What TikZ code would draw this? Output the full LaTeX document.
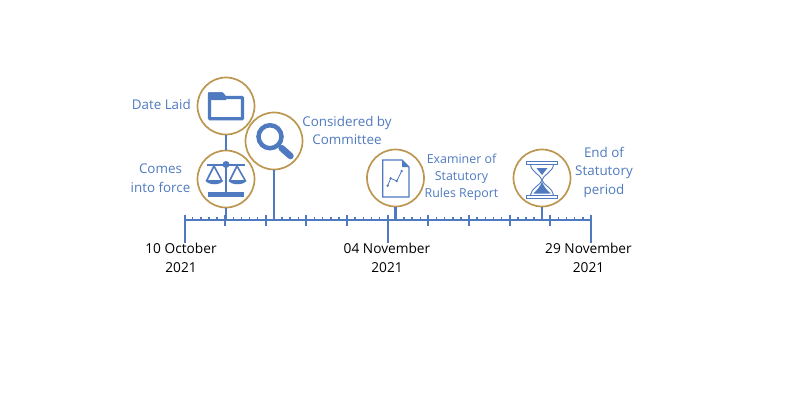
\documentclass[tikz,border=0pt]{standalone}
\usepackage{fontspec}
\usepackage{xcolor}
\setmainfont{Open Sans}
\definecolor{lineblue}{HTML}{4F7ABF}
\definecolor{ringgold}{HTML}{BD9650}

\tikzset{
	event/.style={circle, draw=ringgold, line width=1.7pt, fill=white, minimum size=57pt, inner sep=0pt},
	stem/.style={lineblue, line width=2.2pt},
	major/.style={lineblue, line width=2pt},
	minor/.style={lineblue, line width=1.5pt},
	bluelabel/.style={text=lineblue, align=center, inner sep=0pt, font=\fontsize{13.4}{18.5}\selectfont},
	smalllabel/.style={text=lineblue, align=center, inner sep=0pt, font=\fontsize{12.4}{17}\selectfont},
	datelabel/.style={text=black, align=center, inner sep=0pt, font=\fontsize{13.7}{18.3}\selectfont},
}

\begin{document}
\begin{tikzpicture}[x=1pt, y=-1pt]
	\useasboundingbox (0, 0) rectangle (790, 400);

	\coordinate (axisstart) at (184.5, 220);
	\coordinate (axisend) at (591, 220);

	% ticks
	\foreach \i in {0,...,50} {
		\draw[minor] ({184.5+8.13*\i}, 216.5) -- ++(0, 3.5);
	}
	\foreach \i in {0,...,10} {
		\draw[major] ({184.5+40.65*\i}, 215) -- ++(0, 11);
	}
	\draw[major] (axisstart) -- (axisend);  % time line

	\coordinate (startfoot) at (184.5, 243);
	\coordinate (startfoottop) at (184.5, 215);
	\coordinate (midfoot) at (387.7, 243);
	\coordinate (midfoottop) at (387.7, 215);
	\coordinate (endfoot) at (591, 243);
	\coordinate (endfoottop) at (591, 215);
	\draw[major] (startfoottop) -- (startfoot);
	\draw[major] (midfoottop) -- (midfoot);
	\draw[major] (endfoottop) -- (endfoot);

	\node[event] (folder) at (226, 106) {};
	\node[event] (scales) at (226, 179) {};
	\node[event] (lens) at (274, 141) {};
	\node[event] (report) at (395.5, 178) {};
	\node[event] (glass) at (542, 178) {};

	\coordinate (scalesfoot) at (226, 220);
	\coordinate (lensfoot) at (274, 220);
	\coordinate (reportfoot) at (395.5, 220);
	\coordinate (glassfoot) at (542, 220);
	\draw[stem] (folder) -- (scales);
	\draw[stem] (scales) -- (scalesfoot);
	\draw[stem] (lens) -- (lensfoot);
	\draw[stem] (report) -- (reportfoot);
	\draw[stem] (glass) -- (glassfoot);

	% folder icon
	\draw[lineblue, line width=3.2pt, line join=round] (209.5, 118.8) -- (209.5, 94) -- (222, 94) -- (225, 97.5) -- (242.5, 97.5) -- (242.5, 118.8) -- cycle;
	\fill[lineblue] (208, 92.3) -- (222.5, 92.3) -- (226, 96.5) -- (226, 100) -- (208, 100) -- cycle;

	% magnifier icon
	\draw[lineblue, line width=4.5pt] (270, 136.7) circle (11.5);
	\draw[lineblue, line width=6.5pt, line cap=round] (281.5, 148) -- (290.5, 156);

	% scales icon
	\fill[lineblue] (207.7, 191.7) rectangle (244, 196.5);
	\draw[lineblue, line width=2.2pt] (226, 165) -- (226, 192);
	\draw[lineblue, line width=2pt] (207, 164.5) -- (245, 164.5);
	\fill[lineblue] (226, 164.5) circle (3.5);
	\draw[lineblue, line width=1.6pt, line join=round] (206.5, 181) -- (214, 166) -- (222, 181) -- cycle;
	\draw[lineblue, line width=1.6pt, line join=round] (229.5, 181) -- (237, 166) -- (245.5, 181) -- cycle;
	\fill[lineblue] (205.5, 180.5) -- (223, 180.5) .. controls (221, 185.5) and (208, 185.5) .. (205.5, 180.5) -- cycle;
	\fill[lineblue] (228.5, 180.5) -- (246.5, 180.5) .. controls (244, 185.5) and (231, 185.5) .. (228.5, 180.5) -- cycle;

	% report icon
	\draw[lineblue, line width=1.4pt] (382.7, 160) -- (402, 160) -- (409, 167) -- (409, 197) -- (382.7, 197) -- cycle;
	\fill[lineblue] (402, 160) -- (409, 167) -- (402, 167) -- cycle;
	\draw[lineblue, line width=0.8pt] (387.7, 185.7) -- (390.7, 178.3) -- (396.7, 181) -- (401.7, 171);
	\foreach \p in {(387.7, 185.7), (390.7, 178.3), (396.7, 181), (401.7, 171)} {
		\fill[lineblue] \p circle (1.3);
	}

	% hourglass icon
	\draw[lineblue, line width=0.8pt] (526.7, 161.7) rectangle (557.3, 164.5);
	\draw[lineblue, line width=0.8pt] (526.7, 195) rectangle (557.3, 198);
	\draw[lineblue, line width=0.9pt] (530.5, 164.5) .. controls (531, 172) and (541, 175) .. (542, 180) .. controls (541, 185) and (531, 188) .. (530.5, 195);
	\draw[lineblue, line width=0.9pt] (553.5, 164.5) .. controls (553, 172) and (543, 175) .. (542, 180) .. controls (543, 185) and (553, 188) .. (553.5, 195);
	\fill[lineblue] (536.5, 168) -- (547.5, 168) -- (542, 175) -- cycle;
	\fill[lineblue] (533.5, 193.5) -- (550.5, 193.5) .. controls (546, 189) and (543.5, 186) .. (542, 181.5) .. controls (540.5, 186) and (538, 189) .. (533.5, 193.5) -- cycle;

	% labels
	\node[bluelabel, anchor=east] (laidlabel) at (191, 104.5) {Date Laid};
	\node[bluelabel] (forcelabel) at (160.5, 178) {Comes\\into force};
	\node[bluelabel] (committeelabel) at (347, 130.5) {Considered by\\Committee};
	\node[smalllabel] (reportlabel) at (461.5, 177.5) {Examiner of\\Statutory\\Rules Report};
	\node[bluelabel] (endlabel) at (604, 172) {End of\\Statutory\\period};
	\node[datelabel] (startdate) at (181, 258) {10 October\\2021};
	\node[datelabel] (middate) at (387, 258) {04 November\\2021};
	\node[datelabel] (enddate) at (588.5, 258) {29 November\\2021};
\end{tikzpicture}
\end{document}
